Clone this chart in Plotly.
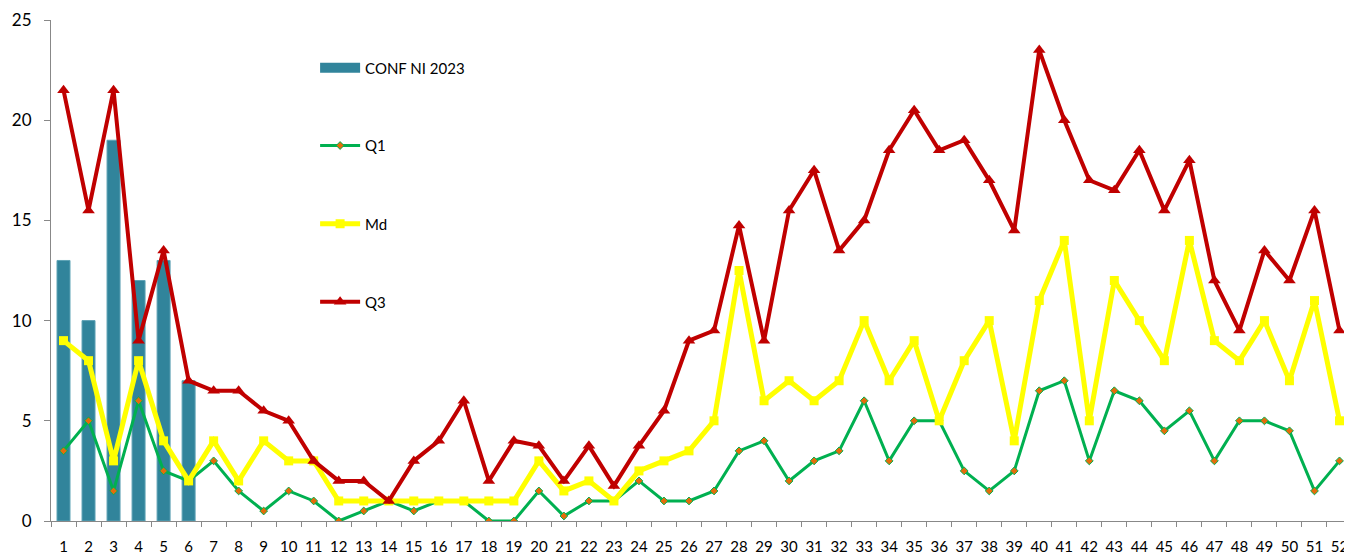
import plotly.graph_objects as go

weeks = [str(i) for i in range(1, 53)]
conf_weeks = weeks[:6]
conf_2023 = [13, 10, 19, 12, 13, 7]
q1 = [3.5, 5, 1.5, 6, 2.5, 2, 3, 1.5, 0.5, 1.5, 1, 0, 0.5, 1, 0.5, 1, 1, 0, 0, 1.5,
      0.25, 1, 1, 2, 1, 1, 1.5, 3.5, 4, 2, 3, 3.5, 6, 3, 5, 5, 2.5, 1.5, 2.5, 6.5,
      7, 3, 6.5, 6, 4.5, 5.5, 3, 5, 5, 4.5, 1.5, 3]
md = [9, 8, 3, 8, 4, 2, 4, 2, 4, 3, 3, 1, 1, 1, 1, 1, 1, 1, 1, 3,
      1.5, 2, 1, 2.5, 3, 3.5, 5, 12.5, 6, 7, 6, 7, 10, 7, 9, 5, 8, 10, 4, 11,
      14, 5, 12, 10, 8, 14, 9, 8, 10, 7, 11, 5]
q3 = [21.5, 15.5, 21.5, 9, 13.5, 7, 6.5, 6.5, 5.5, 5, 3, 2, 2, 1, 3, 4, 6, 2, 4, 3.75,
      2, 3.75, 1.75, 3.75, 5.5, 9, 9.5, 14.75, 9, 15.5, 17.5, 13.5, 15, 18.5, 20.5, 18.5, 19, 17, 14.5, 23.5,
      20, 17, 16.5, 18.5, 15.5, 18, 12, 9.5, 13.5, 12, 15.5, 9.5]
y_ticks = [0, 5, 10, 15, 20, 25]

FONT = "Lato, 'Open Sans', sans-serif"
BAR_COLOR = "#31849B"

fig = go.Figure()
fig.add_trace(go.Bar(x=conf_weeks, y=conf_2023, name="CONF NI 2023",
                     marker=dict(color=BAR_COLOR, line=dict(width=1, color="#5FA3B5")),
                     width=0.52, legendgroup="conf", showlegend=False))
# legend proxy (wide rectangle like the original's legend key)
fig.add_trace(go.Scatter(x=[None], y=[None], name="CONF NI 2023", mode="lines",
                         line=dict(color=BAR_COLOR, width=13), legendgroup="conf",
                         legend="legend", showlegend=True))
fig.add_trace(go.Scatter(x=weeks, y=q1, name="Q1", mode="lines+markers",
                         line=dict(color="#00B050", width=3),
                         marker=dict(symbol="diamond", size=6, color="#E46C0A",
                                     line=dict(color="#00B050", width=1)),
                         legend="legend2"))
fig.add_trace(go.Scatter(x=weeks, y=md, name="Md", mode="lines+markers",
                         line=dict(color="#FFFF00", width=5),
                         marker=dict(symbol="square", size=9, color="#FFFF00"),
                         legend="legend3"))
fig.add_trace(go.Scatter(x=weeks, y=q3, name="Q3", mode="lines+markers",
                         line=dict(color="#C00000", width=4),
                         marker=dict(symbol="triangle-up", size=11, color="#C00000"),
                         legend="legend4"))

def leg(y):
    return dict(x=0.203, y=y, xanchor="left", yanchor="middle", itemwidth=40,
                bgcolor="rgba(0,0,0,0)", font=dict(family=FONT, size=15, color="#000"))

fig.update_layout(
    width=1344, height=548,
    margin=dict(l=43, r=0, t=12, b=35, autoexpand=False),
    showlegend=True,
    paper_bgcolor="white", plot_bgcolor="white",
    font=dict(family=FONT, size=16, color="#000"),
    legend=leg(0.904), legend2=leg(0.749), legend3=leg(0.593), legend4=leg(0.437),
    xaxis=dict(type="category", categoryorder="array", categoryarray=weeks,
               tickvals=weeks, ticktext=weeks, tickangle=0, automargin=False,
               tickson="boundaries", ticks="outside", ticklen=5, tickcolor="#888",
               ticklabelstandoff=12,
               showline=True, linecolor="#888", linewidth=1, showgrid=False,
               tickfont=dict(family=FONT, size=15), range=[-0.5, 51.5]),
    yaxis=dict(range=[0, 25], tickvals=y_ticks, ticks="outside", ticklen=6,
               tickcolor="#888", showline=True, linecolor="#888", linewidth=1,
               automargin=False, ticklabelstandoff=9,
               showgrid=False, zeroline=False, tickfont=dict(family=FONT, size=17)),
    bargap=0.48,
)

fig.write_html("out.html")
